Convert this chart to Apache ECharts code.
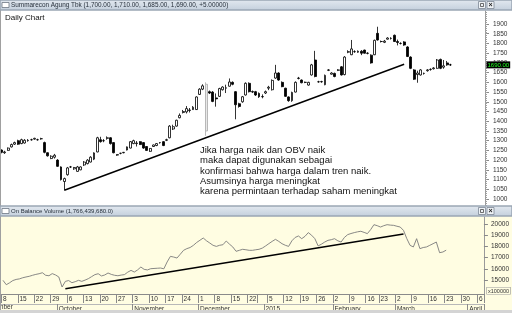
<!DOCTYPE html>
<html><head><meta charset="utf-8">
<script src="https://cdn.jsdelivr.net/npm/echarts@6/dist/echarts.min.js"></script>
<style>html,body{margin:0;padding:0;background:#fff}#c{width:512px;height:313px}</style>
</head><body><div id="c"></div>
<script>
// ---- trading calendar (categories) ----
const calendar = [
  [2014, 9,  [8,9,10,11,12,15,16,17,18,19,22,23,24,25,26,29,30]],
  [2014, 10, [1,2,3,6,7,8,9,10,13,14,15,16,17,20,21,22,23,24,27,28,29,30,31]],
  [2014, 11, [3,4,5,6,7,10,11,12,13,14,17,18,19,20,21,24,25,26,27,28]],
  [2014, 12, [1,2,3,4,5,8,9,10,11,12,15,16,17,18,19,22,23,24,29,30]],
  [2015, 1,  [2,5,6,7,8,9,12,13,14,15,16,19,20,21,22,23,26,27,28,29,30]],
  [2015, 2,  [2,3,4,5,6,9,10,11,12,13,16,17,18,20,23,24,25,26,27]],
  [2015, 3,  [2,3,4,5,6,9,10,11,12,13,16,17,18,19,20,23,24,25,26,27,30,31]],
  [2015, 4,  [1,2,3,6,7]]
];
const monthNames = ['January','February','March','April','May','June','July','August','September','October','November','December'];
const hiddenWeekLabels = ['2014-12-29'];

// ---- price candles: [open, high, low, close] ----
const ohlc = [
 [1252,1255,1235,1240],[1238,1248,1232,1242],[1250,1265,1248,1262],[1268,1285,1265,1280],[1282,1295,1278,1290],
 [1300,1305,1278,1282],[1285,1310,1282,1305],[1288,1308,1285,1302],[1300,1308,1295,1302],[1305,1310,1300,1305],
 [1308,1315,1305,1312],[1305,1310,1300,1305],[1310,1315,1305,1310],[1290,1295,1235,1240],[1238,1240,1218,1222],
 [1208,1225,1205,1220],[1215,1232,1208,1225],[1200,1205,1165,1168],[1165,1168,1095,1100],[1090,1110,1045,1105],
 [1125,1165,1120,1160],[1165,1170,1160,1165],[1155,1165,1150,1162],[1142,1170,1140,1165],[1150,1168,1148,1165],
 [1175,1195,1170,1190],[1182,1205,1178,1200],[1190,1220,1188,1215],[1205,1240,1200,1237],[1242,1320,1240,1315],
 [1305,1320,1290,1295],[1300,1308,1292,1300],[1312,1322,1305,1315],[1315,1318,1280,1285],[1290,1292,1235,1238],
 [1228,1230,1222,1226],[1235,1238,1230,1235],[1238,1242,1235,1240],[1252,1270,1250,1268],[1262,1298,1260,1295],
 [1285,1305,1282,1300],[1285,1298,1270,1288],[1295,1298,1278,1280],[1290,1292,1258,1262],[1270,1272,1248,1250],
 [1245,1262,1242,1260],[1270,1280,1268,1278],[1275,1288,1272,1285],[1290,1292,1285,1290],[1295,1298,1272,1275],
 [1302,1310,1298,1305],[1315,1380,1312,1375],[1360,1382,1355,1372],[1375,1408,1372,1405],[1418,1440,1415,1430],
 [1445,1458,1440,1450],[1448,1478,1440,1465],[1455,1468,1445,1458],[1460,1478,1458,1472],[1460,1528,1458,1525],
 [1538,1570,1535,1565],[1565,1590,1560,1582],[1350,1600,1325,1590],[1552,1558,1540,1545],[1550,1555,1498,1502],
 [1520,1543,1475,1515],[1528,1572,1525,1568],[1562,1580,1558,1576],[1570,1588,1545,1572],[1580,1620,1578,1602],
 [1600,1605,1585,1590],[1552,1555,1410,1485],[1490,1495,1470,1476],[1500,1530,1495,1526],[1535,1600,1532,1595],
 [1595,1600,1548,1552],[1550,1558,1545,1553],[1552,1556,1530,1535],[1543,1548,1520,1526],[1526,1538,1518,1527],
 [1545,1558,1540,1552],[1570,1582,1560,1575],[1562,1615,1558,1610],[1622,1690,1618,1648],[1648,1652,1608,1612],
 [1600,1605,1575,1578],[1570,1572,1525,1528],[1525,1528,1500,1506],[1506,1552,1500,1548],[1550,1605,1548,1600],
 [1620,1628,1615,1622],[1612,1615,1595,1598],[1600,1604,1596,1600],[1586,1603,1583,1600],[1638,1695,1635,1690],
 [1715,1762,1626,1630],[1603,1608,1598,1603],[1603,1608,1598,1604],[1588,1640,1585,1636],[1662,1668,1658,1664],
 [1642,1652,1640,1648],[1646,1650,1626,1630],[1662,1668,1658,1664],[1680,1684,1635,1638],[1640,1735,1636,1730],
 [1755,1765,1750,1758],[1742,1818,1740,1772],[1758,1765,1752,1758],[1755,1764,1752,1760],[1760,1766,1740,1750],
 [1766,1768,1748,1750],[1749,1755,1744,1750],[1740,1744,1696,1700],[1742,1820,1740,1816],[1852,1886,1815,1818],
 [1810,1815,1805,1810],[1806,1818,1802,1812],[1822,1832,1820,1828],[1826,1832,1820,1826],[1842,1846,1808,1810],
 [1810,1820,1790,1805],[1800,1806,1795,1800],[1808,1812,1788,1792],[1782,1786,1730,1733],[1730,1734,1668,1672],
 [1664,1668,1612,1616],[1640,1660,1598,1648],[1638,1668,1635,1664],[1646,1650,1640,1646],[1660,1668,1655,1664],
 [1666,1672,1660,1667],[1670,1678,1666,1674],[1672,1720,1670,1715],[1718,1722,1668,1672],[1678,1715,1670,1685],
 [1700,1710,1685,1690]
];
const grayCandleDates = ['2014-12-03'];

// ---- On Balance Volume (x100000) ----
const obv = [
 14970,14580,14750,14950,15050,15100,15200,15270,15330,15420,
 15500,15560,15650,15420,15380,15570,15450,15270,14375,14880,
 14950,14760,14850,14970,14880,14990,15120,15300,15480,15560,
 15360,15450,15625,15500,15420,15380,15440,15480,15700,15860,
 15710,15900,16160,15950,15900,16010,16030,16050,16070,16000,
 16610,17110,17050,16960,17300,17650,17800,17900,18095,18350,
 18550,18750,18500,18300,18095,18000,18100,18150,18480,18200,
 17950,17560,17650,17740,17700,17650,17650,17700,17740,17850,
 18040,18250,18450,18630,18450,18240,18100,18000,18500,18800,
 18930,18690,18900,19230,19000,18690,18040,18200,18390,18540,
 18600,18690,18500,18390,18800,19050,19150,19230,19300,19350,
 19250,19140,19500,19940,19850,19730,19850,19940,19900,19880,
 19800,19730,19430,18700,18095,17950,18690,17800,17900,17950,
 18095,18240,18390,17440,17500,17664
];

// ---- axis ticks ----
const priceTicks = [1000,1050,1100,1150,1200,1250,1300,1350,1400,1450,1500,1550,1600,1650,1700,1750,1800,1850,1900];
const priceMinorTicks = [];
for (let v = 970; v <= 1960; v += 10) priceMinorTicks.push(v);
const obvTicks = [15000,16000,17000,18000,19000,20000];

// ---- annotations ----
const priceTrend = [['2014-10-03', 1045], ['2015-03-04', 1693]];
const obvTrend = [['2014-10-03', 14222], ['2015-03-04', 19107]];
const lastQuote = {open: '1,700.00', high: '1,710.00', low: '1,685.00', close: '1,690.00', change: '+5.00000', closeValue: 1690, closeLabel: '1690.00'};
const obvLast = '1,766,439,680.0';
const noteLines = ['Jika harga naik dan OBV naik','maka dapat digunakan sebagai','konfirmasi bahwa harga dalam tren naik.','Asumsinya harga meningkat','karena permintaan terhadap saham meningkat'];

// ---- build ----
const categories = [];
calendar.forEach(([y, m, days]) => days.forEach(d => categories.push(y + '-' + String(m).padStart(2,'0') + '-' + String(d).padStart(2,'0'))));
const toDate = s => { const p = s.split('-').map(Number); return new Date(Date.UTC(p[0], p[1]-1, p[2])); };
const weekStart = new Set(), monthStart = new Set();
categories.forEach((c, i) => {
  if (i === 0) { weekStart.add(i); monthStart.add(i); return; }
  const a = toDate(categories[i-1]), b = toDate(c);
  const diff = (b - a) / 86400000;
  if (b.getUTCDay() <= a.getUTCDay() || diff >= 7) weekStart.add(i);
  if (a.getUTCMonth() !== b.getUTCMonth()) monthStart.add(i);
});
const candleData = ohlc.map((r, i) => {
  const item = {value: [r[0], r[3], r[2], r[1]]};
  if (grayCandleDates.includes(categories[i])) item.itemStyle = {borderColor: '#a8a8a8', color: '#e8e8e8'};
  return item;
});
const FONT = 'Liberation Sans';
const plain = v => String(v);
const chart = echarts.init(document.getElementById('c'), null, {renderer: 'canvas'});
const headerGrad = new echarts.graphic.LinearGradient(0,0,0,1,[{offset:0,color:'#e3e9f0'},{offset:1,color:'#c3cfdc'}]);
function headerBar(y, text, fs) {
  return [
    {type:'rect', shape:{x:0,y:y,width:512,height:10}, style:{fill:headerGrad, stroke:'#9aa6b4', lineWidth:1}, z:100},
    {type:'rect', shape:{x:2,y:y+2.5,width:7,height:5}, style:{fill:'#fff', stroke:'#6d7784', lineWidth:0.8}, z:101},
    {type:'text', x:11, y:y+5, style:{text:text, fill:'#27303b', font:fs+'px "'+FONT+'"', verticalAlign:'middle'}, z:101},
    {type:'rect', shape:{x:478.5,y:y+1.5,width:7,height:7}, style:{fill:'#eef2f6', stroke:'#7d8896', lineWidth:0.8}, z:101},
    {type:'rect', shape:{x:480.5,y:y+3.5,width:3,height:3}, style:{fill:'none', stroke:'#333', lineWidth:0.7}, z:102},
    {type:'rect', shape:{x:487,y:y+1.5,width:7,height:7}, style:{fill:'#eef2f6', stroke:'#7d8896', lineWidth:0.8}, z:101},
    {type:'text', x:490.5, y:y+5.2, style:{text:'×', fill:'#222', font:'bold 7px "'+FONT+'"', align:'center', verticalAlign:'middle'}, z:102}
  ];
}
const option = {
  animation: false,
  backgroundColor: '#ffffff',
  textStyle: {fontFamily: FONT},
  grid: [
    {left: 0, right: 27, top: 11, bottom: 107},
    {left: 0, right: 27, top: 217, bottom: 19}
  ],
  xAxis: [
    {type:'category', gridIndex:0, data:categories, boundaryGap:true, axisLine:{show:false}, axisTick:{show:false}, axisLabel:{show:false}, splitLine:{show:false}},
    {type:'category', gridIndex:1, data:categories, boundaryGap:true, position:'bottom',
      axisLine:{show:true, lineStyle:{color:'#8a8a8a', width:1}},
      axisTick:{show:true, length:9, interval:(i)=>weekStart.has(i), lineStyle:{color:'#8a8a8a'}},
      axisLabel:{show:true, interval:(i, v)=>weekStart.has(i) && !hiddenWeekLabels.includes(v), formatter:(v)=>String(Number(v.split('-')[2])), align:'left', margin:2, fontSize:6.5, color:'#333', fontFamily:FONT}
    },
    {type:'category', gridIndex:1, data:categories, boundaryGap:true, position:'bottom', offset:10,
      axisLine:{show:true, lineStyle:{color:'#b8b8b8', width:1}},
      axisTick:{show:true, length:9, interval:(i)=>monthStart.has(i) && i>0, lineStyle:{color:'#8a8a8a'}},
      axisLabel:{show:true, interval:(i)=>monthStart.has(i) && i>0, formatter:(v)=>{const p=v.split('-'); return p[1]==='01' ? p[0] : monthNames[Number(p[1])-1];}, align:'left', margin:2, fontSize:6.5, color:'#333', fontFamily:FONT}
    }
  ],
  yAxis: [
    {type:'value', gridIndex:0, position:'right', min:964, max:1967, scale:true,
      axisLine:{show:true, lineStyle:{color:'#9a9a9a'}},
      axisTick:{show:true, customValues:priceTicks, length:4, lineStyle:{color:'#8a8a8a'}},
      axisLabel:{show:true, customValues:priceTicks, formatter:plain, margin:8, fontSize:6.5, color:'#333', fontFamily:FONT},
      splitLine:{show:false}},
    {type:'value', gridIndex:0, position:'right', min:964, max:1967, scale:true,
      axisLine:{show:false},
      axisTick:{show:true, customValues:priceMinorTicks, length:2, lineStyle:{color:'#a0a0a0'}},
      axisLabel:{show:false}, splitLine:{show:false}},
    {type:'value', gridIndex:1, position:'right', min:13750, max:20625, scale:true,
      axisLine:{show:true, lineStyle:{color:'#9a9a9a'}},
      axisTick:{show:true, customValues:obvTicks, length:4, lineStyle:{color:'#8a8a8a'}},
      axisLabel:{show:true, customValues:obvTicks, formatter:plain, margin:7, fontSize:6.5, color:'#333', fontFamily:FONT},
      splitLine:{show:false}}
  ],
  series: [
    {type:'candlestick', xAxisIndex:0, yAxisIndex:0, data:candleData, barWidth:2.4, clip:false,
      itemStyle:{color:'#ffffff', color0:'#000000', borderColor:'#000000', borderColor0:'#000000', borderWidth:0.8},
      markLine:{silent:true, symbol:['none','none'], animation:false,
        data:[[{coord:priceTrend[0], lineStyle:{color:'#000', width:1.4, type:'solid'}, label:{show:false}}, {coord:priceTrend[1]}]]}
    },
    {type:'line', xAxisIndex:1, yAxisIndex:2, data:obv, showSymbol:false, symbol:'none',
      lineStyle:{color:'#7a7a7a', width:0.9},
      markLine:{silent:true, symbol:['none','none'], animation:false, label:{show:false},
        data:[[{coord:obvTrend[0], lineStyle:{color:'#000', width:1.4, type:'solid'}}, {coord:obvTrend[1]}]]}
    }
  ],
  graphic: [
    {type:'rect', shape:{x:0,y:216,width:512,height:97}, style:{fill:'#fffde2'}, z:-100, silent:true},
    {type:'rect', shape:{x:0,y:310,width:512,height:3}, style:{fill:'#d4d4d4'}, z:100},
    {type:'line', shape:{x1:0.5,y1:10,x2:0.5,y2:310}, style:{stroke:'#a0a0a0', lineWidth:1}, z:100},
    ...headerBar(0, 'Summarecon Agung Tbk (' + [lastQuote.open,lastQuote.high,lastQuote.low,lastQuote.close,lastQuote.change].join(', ') + ')', 6.4),
    ...headerBar(206, 'On Balance Volume (' + obvLast + ')', 6),
    {type:'text', x:5, y:14, style:{text:'Daily Chart', fill:'#111', font:'8px "'+FONT+'"'}, z:50},
    {type:'text', x:200, y:145, style:{text:noteLines.join('\n'), fill:'#111', font:'9.5px "'+FONT+'"', lineHeight:10.4}, z:50},
    {type:'text', x:-19, y:303.5, style:{text:'September', fill:'#333', font:'6.5px "'+FONT+'"'}, z:50},
    {type:'text', x:487, y:287.5, style:{text:'x100000', fill:'#333', font:'5.5px "'+FONT+'"', backgroundColor:'#fffde2', borderColor:'#999', borderWidth:0.6, padding:[0.5,1,0,1]}, z:60}
  ]
};
chart.setOption(option);
// last-price tag placed through the price axis scale
const lastIdx = ohlc.length - 1;
const tagY = chart.convertToPixel({yAxisIndex: 0}, lastQuote.closeValue);
const dotPt = chart.convertToPixel({xAxisIndex: 0, yAxisIndex: 0}, [categories[lastIdx], lastQuote.closeValue]);
chart.setOption({graphic: option.graphic.concat([
  {type:'text', x:486.5, y:tagY, style:{text:lastQuote.closeLabel, fill:'#22ff22', font:'6px "'+FONT+'"', verticalAlign:'middle', backgroundColor:'#000', padding:[1,1,0,1]}, z:70},
  {type:'circle', shape:{cx:dotPt[0]+3.3, cy:dotPt[1], r:1.1}, style:{fill:'#000'}, z:70}
])});
</script>
</body></html>
